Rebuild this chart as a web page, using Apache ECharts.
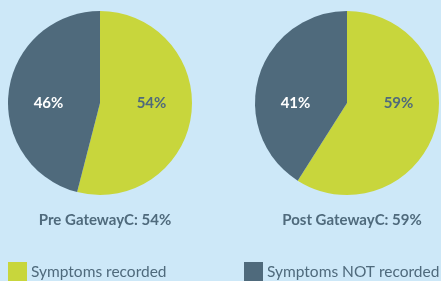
<!DOCTYPE html>
<html>
<head>
<meta charset="utf-8">
<script src="https://cdn.jsdelivr.net/npm/echarts@6/dist/echarts.min.js"></script>
<style>
  html, body { margin: 0; padding: 0; background: #cde8f8; }
  #main { width: 441px; height: 281px; }
</style>
</head>
<body>
<div id="main"></div>
<script>
var categories = ['Symptoms recorded', 'Symptoms NOT recorded'];
var preValues = [54, 46];
var postValues = [59, 41];
var titles = ['Pre GatewayC: 54%', 'Post GatewayC: 59%'];

var colors = ['#c8d63c', '#4f6a7c'];
var labelColors = ['#4f6a7c', '#ffffff'];
var font = 'Lato';
var pieY = 103;
var pieR = 92;

function makeData(values) {
  return values.map(function (v, i) {
    return {
      name: categories[i],
      value: v,
      itemStyle: { color: colors[i] },
      label: { color: labelColors[i] }
    };
  });
}

function makePie(values, cx) {
  return {
    type: 'pie',
    center: [cx, pieY],
    radius: [0, pieR],
    startAngle: 90,
    clockwise: true,
    silent: true,
    animation: false,
    label: {
      show: true,
      position: 'inside',
      formatter: '{c}%',
      fontFamily: font,
      fontWeight: 'bold',
      fontSize: 15
    },
    labelLine: { show: false },
    // labels sit level with the centre, half way out on each side
    labelLayout: function (params) {
      var side = params.dataIndex === 0 ? 1 : -1;
      return { x: cx + side * pieR * 0.56, y: pieY, align: 'center', verticalAlign: 'middle' };
    },
    data: makeData(values)
  };
}

var titleStyle = { color: '#4f6a7c', fontFamily: font, fontWeight: 'bold', fontSize: 15 };
var legendText = { color: '#4f6a7c', fontFamily: font, fontSize: 15.5, padding: [0, 0, 0, -1] };

var option = {
  backgroundColor: '#cde8f8',
  title: [
    { text: titles[0], left: 100, top: 208, textAlign: 'center', textStyle: titleStyle },
    { text: titles[1], left: 347, top: 208, textAlign: 'center', textStyle: titleStyle }
  ],
  legend: [
    { data: [categories[0]], left: 8, top: 262, itemWidth: 19, itemHeight: 20, itemGap: 3,
      icon: 'rect', padding: 0, textStyle: legendText },
    { data: [categories[1]], left: 244, top: 262, itemWidth: 19, itemHeight: 20, itemGap: 3,
      icon: 'rect', padding: 0, textStyle: legendText }
  ],
  series: [
    makePie(preValues, 100),
    makePie(postValues, 347)
  ]
};

var myChart = echarts.init(document.getElementById('main'));
myChart.setOption(option);
</script>
</body>
</html>
